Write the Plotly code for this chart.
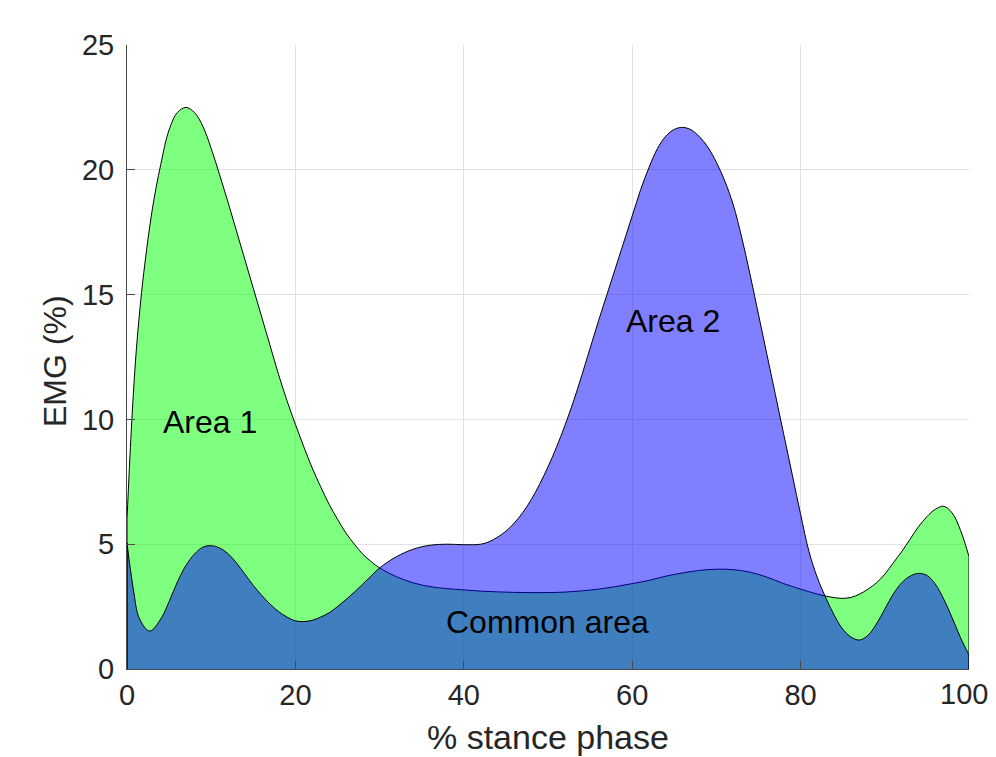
import plotly.graph_objects as go

# Curve 1 (green, "Area 1")
a_x = [0, 0.5, 1, 1.5, 2, 3, 4, 5, 6, 7, 8, 9, 10, 11, 12, 13, 14, 15, 16, 17, 18, 19, 20,
       21, 22, 23, 24, 25, 26, 27, 28, 29, 30, 32, 34, 36, 38, 40, 42, 44, 46, 48, 50, 52,
       54, 56, 58, 60, 62, 64, 66, 68, 70, 72, 74, 76, 78, 80, 82, 83, 84, 85, 86, 87, 88,
       89, 90, 91, 92, 93, 94, 95, 96, 97, 98, 99, 100]
a_y = [6.0, 9.5, 12.3, 14.3, 15.9, 18.4, 20.2, 21.6, 22.3, 22.5, 22.3, 21.75, 20.85, 19.8, 18.7,
       17.55, 16.4, 15.25, 14.1, 12.95, 11.8, 10.75, 9.8, 8.9, 8.05, 7.3, 6.6, 6.0, 5.45, 5.0, 4.6,
       4.3, 4.05, 3.7, 3.45, 3.3, 3.22, 3.17, 3.12, 3.09, 3.07, 3.06, 3.06, 3.08, 3.13, 3.2, 3.3,
       3.42, 3.55, 3.72, 3.85, 3.95, 4.0, 3.98, 3.88, 3.68, 3.42, 3.2, 3.0, 2.92, 2.86, 2.83,
       2.87, 3.0, 3.2, 3.45, 3.8, 4.25, 4.7, 5.2, 5.7, 6.1, 6.4, 6.52, 6.25, 5.55, 4.5]

# Curve 2 (blue, "Area 2")
b_x = [0, 0.75, 1.5, 2.7, 4, 5, 6, 7, 8, 9, 10, 11, 12, 13, 14, 15, 16, 17, 18, 19, 20, 21,
       22, 23, 24, 25, 26, 27, 28, 29, 30, 32, 34, 36, 38, 40, 42, 43, 44, 45, 46, 47, 48, 49,
       50, 51, 52, 53, 54, 55, 56, 57, 58, 59, 60, 61, 62, 63, 64, 65, 66, 67, 68, 69, 70, 71,
       72, 73, 74, 75, 76, 77, 78, 79, 80, 81, 82, 83, 84, 85, 86, 87, 88, 89, 90, 91, 92, 93,
       94, 95, 96, 97, 98, 99, 100]
b_y = [5.05, 3.2, 2.0, 1.52, 2.0, 2.7, 3.5, 4.15, 4.6, 4.88, 4.94, 4.85, 4.62, 4.25, 3.8, 3.35,
       2.95, 2.6, 2.3, 2.08, 1.93, 1.9, 1.95, 2.08, 2.25, 2.5, 2.78, 3.08, 3.4, 3.73, 4.05, 4.5,
       4.8, 4.96, 5.0, 4.98, 5.0, 5.1, 5.28, 5.52, 5.85, 6.27, 6.78, 7.4, 8.1, 8.88, 9.75, 10.7,
       11.75, 12.85, 13.95, 15.0, 16.05, 17.1, 18.15, 19.2, 20.1, 20.85, 21.35, 21.62, 21.7, 21.6,
       21.32, 20.9, 20.3, 19.55, 18.6, 17.3, 15.8, 14.2, 12.6, 11.0, 9.4, 7.8, 6.2, 4.7,
       3.65, 2.85, 2.15, 1.6, 1.28, 1.16, 1.35, 1.8, 2.4, 3.0, 3.45, 3.72, 3.83, 3.75, 3.4,
       2.8, 2.05, 1.25, 0.56]

x_ticks = [0, 20, 40, 60, 80, 100]
y_ticks = [0, 5, 10, 15, 20, 25]

x_title = "% stance phase"
y_title = "EMG (%)"

labels = ["Area 1", "Area 2", "Common area"]
label_x = [9.9, 64.8, 49.9]
label_y = [9.9, 13.95, 1.9]

FONT = "Liberation Sans, Arial, Helvetica, sans-serif"
TXT = "#262626"

fig = go.Figure()

def add_area(xs, ys, fillcolor):
    fig.add_trace(go.Scatter(
        x=xs, y=ys, mode="lines", fill="tozeroy", fillcolor=fillcolor,
        line=dict(color="black", width=1, shape="spline", smoothing=1.0),
        hoverinfo="skip", showlegend=False))
    # closing vertical edges of the patch
    for i in (0, -1):
        fig.add_trace(go.Scatter(
            x=[xs[i], xs[i]], y=[0, ys[i]], mode="lines",
            line=dict(color="black", width=1), hoverinfo="skip", showlegend=False))

add_area(a_x, a_y, "rgba(0,255,0,0.5)")
add_area(b_x, b_y, "rgba(0,0,255,0.5)")

for t, x, y in zip(labels, label_x, label_y):
    fig.add_annotation(x=x, y=y, text=t, showarrow=False,
                       font=dict(family=FONT, size=32, color="black"))

# the last x tick label sits at the page edge: draw it as an annotation nudged inward
x_ticktext = [str(v) for v in x_ticks[:-1]] + [""]
fig.add_annotation(x=x_ticks[-1], y=y_ticks[0], text=str(x_ticks[-1]), showarrow=False,
                   xanchor="center", yanchor="middle", xshift=-5, yshift=-25,
                   font=dict(family=FONT, size=29, color=TXT))

# axis titles
fig.add_annotation(xref="paper", yref="paper", x=0.5, y=0, text=x_title, showarrow=False,
                   xanchor="center", yanchor="middle", yshift=-68,
                   font=dict(family=FONT, size=34, color=TXT))
fig.add_annotation(xref="paper", yref="paper", x=0, y=0.5, text=y_title, showarrow=False,
                   textangle=-90, xanchor="center", yanchor="middle", xshift=-72, yshift=-4,
                   font=dict(family=FONT, size=32, color=TXT))

axis_common = dict(
    showgrid=True, gridcolor="#e2e2e2", gridwidth=1, zeroline=False,
    showline=True, linecolor="#4a4a4a", linewidth=1, automargin=False,
    ticks="inside", ticklen=8, tickcolor="#4a4a4a", tickwidth=1,
    tickfont=dict(family=FONT, size=29, color=TXT),
)

# page body has an 8px margin, so the figure is offset to compensate
fig.update_layout(
    width=988, height=749,
    margin=dict(l=119, r=27, t=37, b=88),
    paper_bgcolor="white", plot_bgcolor="white",
    xaxis=dict(range=[0, 100], tickvals=x_ticks, ticktext=x_ticktext, **axis_common),
    yaxis=dict(range=[0, 25], tickvals=y_ticks, ticklabelstandoff=6, **axis_common),
)

fig.write_html("out.html")
